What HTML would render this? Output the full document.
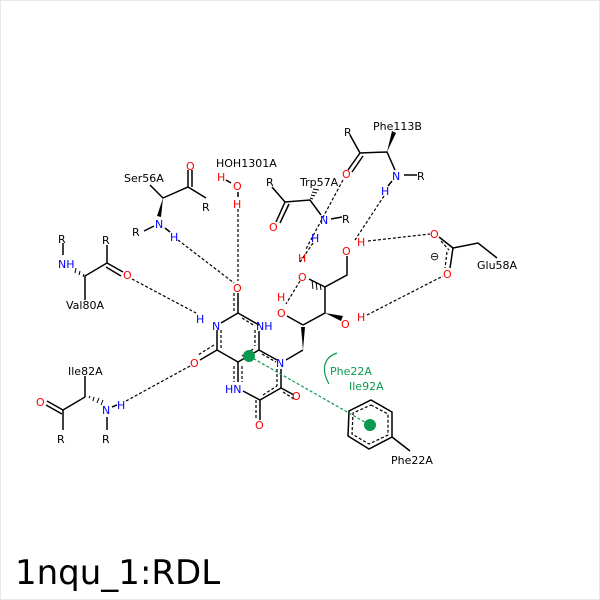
<!DOCTYPE html>
<html><head><meta charset="utf-8"><style>
html,body{margin:0;padding:0;background:#fff}
svg{display:block}
text{font-family:"DejaVu Sans","Liberation Sans",sans-serif;font-size:11px}
.b{stroke:#000;stroke-width:1.5;fill:none}
.d{stroke:#000;stroke-width:1.2;fill:none;stroke-dasharray:3,2}
.g{stroke:#0a9950;stroke-width:1.2;fill:none;stroke-dasharray:3,2}
.r{fill:#f00}.n{fill:#00f}.k{fill:#000}.gr{fill:#0a9950}
</style></head><body>
<svg width="600" height="600" viewBox="0 0 600 600">
<rect x="0.5" y="0.5" width="599" height="599" fill="#fff" stroke="#e8e8e8"/>
<!-- hbonds -->
<g class="d">
<line x1="132" y1="279" x2="196" y2="313"/>
<line x1="178" y1="240" x2="234" y2="283"/>
<line x1="238" y1="209" x2="238" y2="281"/>
<line x1="126" y1="401" x2="190" y2="366"/>
<line x1="343" y1="180" x2="306" y2="249"/>
<line x1="313" y1="243" x2="300" y2="262"/>
<line x1="300" y1="281" x2="286" y2="304"/>
<line x1="384" y1="196" x2="355" y2="240"/>
<line x1="368" y1="241" x2="430" y2="234"/>
<line x1="367" y1="315" x2="443" y2="276"/>
</g>
<!-- ring bonds -->
<g class="b">
<polyline points="238,293 238,313 259,325"/>
<polyline points="238,313 221,323"/>
<line x1="217" y1="330" x2="217" y2="350"/>
<line x1="217" y1="350" x2="238" y2="362"/>
<line x1="238" y1="362" x2="259" y2="350"/>
<line x1="259" y1="350" x2="259" y2="331"/>
<line x1="259" y1="350" x2="277" y2="360"/>
<line x1="238" y1="362" x2="238" y2="382"/>
<line x1="243" y1="391" x2="260" y2="400"/>
<line x1="260" y1="400" x2="281" y2="388"/>
<line x1="281" y1="388" x2="281" y2="369"/>
<line x1="260" y1="400" x2="260" y2="420"/>
<line x1="281" y1="388" x2="294" y2="395"/>
<line x1="217" y1="350" x2="200" y2="360"/>
<line x1="286" y1="360" x2="303" y2="350"/>
<polyline points="303,325 325,313 325,287 347,275 347,256"/>
<line x1="303" y1="325" x2="287" y2="316"/>
<line x1="325" y1="287" x2="309" y2="279"/>
</g>
<g class="d">
<line x1="234" y1="293" x2="234" y2="311"/>
<line x1="242" y1="318" x2="255" y2="326"/>
<line x1="221" y1="330" x2="221" y2="348"/>
<line x1="242" y1="356" x2="255" y2="348"/>
<line x1="214" y1="345" x2="198" y2="355"/>
<line x1="242" y1="366" x2="242" y2="382"/>
<line x1="263" y1="395" x2="277" y2="386"/>
<line x1="277" y1="369" x2="277" y2="386"/>
<line x1="256" y1="400" x2="256" y2="420"/>
<line x1="262" y1="354" x2="276" y2="362"/>
<line x1="283" y1="392" x2="294" y2="399"/>
<line x1="255" y1="330" x2="255" y2="346"/>
<line x1="234" y1="366" x2="234" y2="382"/>
</g>
<polygon points="303,350 301,327 305,327" fill="#000"/>
<polygon points="325,313 341,321 343,316" fill="#000"/>
<g stroke="#000" stroke-width="1"><line x1="320" y1="284" x2="321" y2="290"/><line x1="316" y1="282" x2="317" y2="290"/><line x1="312" y1="280" x2="313" y2="289"/></g>
<!-- ring labels -->
<text x="233" y="292" class="r">O</text>
<text x="196" y="323" class="n">H</text>
<text x="212" y="330" class="n">N</text>
<text x="256" y="330" class="n">NH</text>
<text x="190" y="367" class="r">O</text>
<text x="276" y="367" class="n">N</text>
<text x="225" y="393" class="n">HN</text>
<text x="255" y="429" class="r">O</text>
<text x="292" y="400" class="r">O</text>
<text x="277" y="317" class="r">O</text>
<text x="277" y="301" class="r">H</text>
<text x="341" y="328" class="r">O</text>
<text x="357" y="321" class="r">H</text>
<text x="298" y="281" class="r">O</text>
<text x="298" y="262" class="r">H</text>
<text x="342" y="255" class="r">O</text>
<text x="357" y="246" class="r">H</text>
<!-- Glu58A -->
<g class="b"><line x1="439" y1="237" x2="453" y2="248"/><polyline points="453,248 478,243 497,258"/><line x1="453" y1="248" x2="450" y2="268"/></g>
<g class="d"><line x1="441" y1="241" x2="449" y2="250"/><line x1="447" y1="252" x2="445" y2="268"/></g>
<text x="430" y="238" class="r">O</text>
<text x="443" y="278" class="r">O</text>
<text x="430" y="260" class="k">⊖</text>
<text x="477" y="269" class="k">Glu58A</text>
<!-- Trp57A -->
<g class="b"><polyline points="272,187 285,202 310,200 321,215"/><line x1="285" y1="202" x2="276" y2="222"/><line x1="331" y1="219" x2="342" y2="217"/></g>
<line x1="289" y1="204" x2="280" y2="223" class="b" stroke-width="1"/>
<g stroke="#000" stroke-width="1"><line x1="310" y1="198" x2="313" y2="199"/><line x1="311" y1="195" x2="315" y2="196"/><line x1="312" y1="192" x2="317" y2="193"/><line x1="313" y1="189" x2="319" y2="190"/></g>
<text x="300" y="186" class="k">Trp57A</text>
<text x="266" y="186" class="k">R</text>
<text x="269" y="231" class="r">O</text>
<text x="320" y="224" class="n">N</text>
<text x="342" y="223" class="k">R</text>
<text x="311" y="242" class="n">H</text>
<!-- Phe113B -->
<g class="b"><polyline points="350,135 360,153 387,152 395,170"/><line x1="360" y1="153" x2="348" y2="170"/><line x1="404" y1="175" x2="417" y2="175"/><line x1="392" y1="181" x2="388" y2="186"/></g>
<line x1="363" y1="156" x2="352" y2="172" class="b" stroke-width="1"/>
<polygon points="387,152 392,131 396,133" fill="#000"/>
<text x="373" y="130" class="k">Phe113B</text>
<text x="344" y="136" class="k">R</text>
<text x="342" y="178" class="r">O</text>
<text x="392" y="180" class="n">N</text>
<text x="417" y="180" class="k">R</text>
<text x="381" y="195" class="n">H</text>
<!-- HOH -->
<text x="216" y="167" class="k">HOH1301A</text>
<text x="217" y="181" class="r">H</text>
<text x="233" y="190" class="r">O</text>
<text x="233" y="208" class="r">H</text>
<line x1="226" y1="180" x2="231" y2="183" class="b" stroke-width="1"/>
<line x1="238" y1="192" x2="238" y2="197" class="b" stroke-width="1"/>
<!-- Ser56A -->
<g class="b"><polyline points="150,185 163,198 188,187 206,198"/><line x1="188" y1="187" x2="188" y2="170"/><line x1="144" y1="231" x2="154" y2="226"/><line x1="165" y1="228" x2="170" y2="232"/></g>
<line x1="192" y1="187" x2="192" y2="170" class="b" stroke-width="1"/>
<polygon points="163,198 157,216 161,217" fill="#000"/>
<text x="124" y="182" class="k">Ser56A</text>
<text x="186" y="170" class="r">O</text>
<text x="202" y="211" class="k">R</text>
<text x="155" y="228" class="n">N</text>
<text x="132" y="236" class="k">R</text>
<text x="170" y="241" class="n">H</text>
<!-- Val80A -->
<g class="b"><line x1="63" y1="243" x2="63" y2="255"/><polyline points="107,245 107,263 85,276 85,300"/><line x1="107" y1="263" x2="123" y2="272"/></g>
<line x1="106" y1="267" x2="121" y2="276" class="b" stroke-width="1"/>
<g stroke="#000" stroke-width="1"><line x1="83" y1="277" x2="84" y2="274"/><line x1="79" y1="275" x2="80" y2="271"/><line x1="75" y1="273" x2="76" y2="268"/></g>
<text x="58" y="243" class="k">R</text>
<text x="102" y="244" class="k">R</text>
<text x="58" y="268" class="n">NH</text>
<text x="123" y="279" class="r">O</text>
<text x="66" y="309" class="k">Val80A</text>
<!-- Ile82A -->
<g class="b"><line x1="85" y1="376" x2="85" y2="397"/><line x1="85" y1="397" x2="63" y2="410"/><line x1="63" y1="410" x2="47" y2="401"/><line x1="63" y1="410" x2="63" y2="430"/><line x1="107" y1="417" x2="107" y2="430"/><line x1="112" y1="407" x2="117" y2="405"/></g>
<line x1="62" y1="414" x2="46" y2="405" class="b" stroke-width="1"/>
<g stroke="#000" stroke-width="1"><line x1="89" y1="398" x2="90" y2="396"/><line x1="93" y1="401" x2="94" y2="397"/><line x1="97" y1="403" x2="99" y2="398"/><line x1="101" y1="405" x2="103" y2="400"/></g>
<text x="68" y="375" class="k">Ile82A</text>
<text x="36" y="406" class="r">O</text>
<text x="57" y="443" class="k">R</text>
<text x="102" y="414" class="n">N</text>
<text x="117" y="409" class="n">H</text>
<text x="102" y="443" class="k">R</text>
<!-- Phe22A ring -->
<g class="b"><polygon points="371,400 392,412 392,437 369,449 348,436 349,411"/><line x1="392" y1="437" x2="410" y2="451"/></g>
<polygon points="371,405 388,414 388,435 369,444 352,434 353,413" class="d"/>
<text x="391" y="464" class="k">Phe22A</text>
<line x1="249" y1="356" x2="370" y2="425" class="g"/>
<circle cx="249" cy="356" r="6" fill="#0a9950"/>
<circle cx="370" cy="425" r="6" fill="#0a9950"/>
<path d="M337,353 C322,358 322,372 329,384" stroke="#0a9950" stroke-width="1.2" fill="none"/>
<text x="330" y="375" class="gr">Phe22A</text>
<text x="349" y="390" class="gr">Ile92A</text>
<text x="15" y="584" style="font-size:34px" class="k">1nqu_1:RDL</text>
</svg>
</body></html>
